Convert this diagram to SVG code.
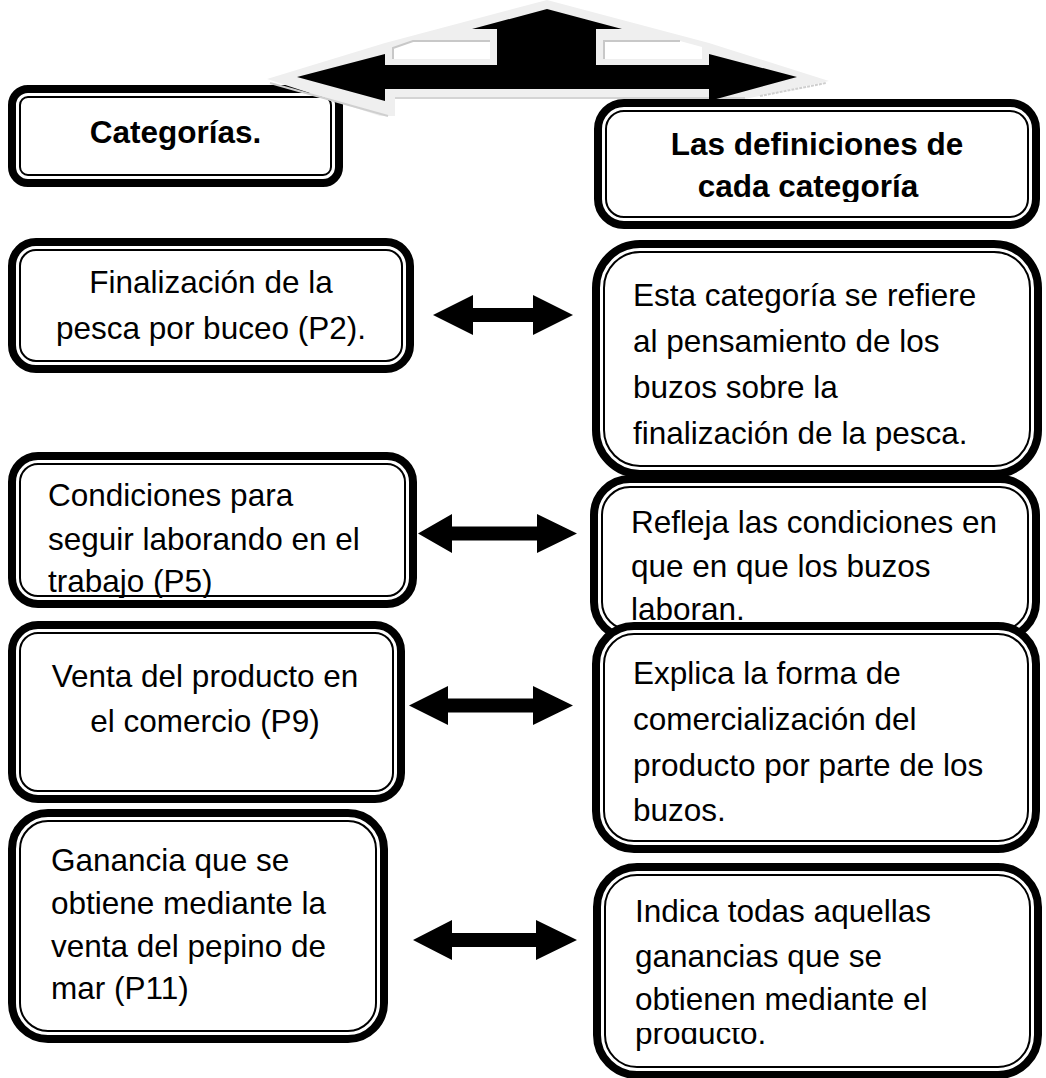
<svg xmlns="http://www.w3.org/2000/svg" width="1046" height="1078" viewBox="0 0 1046 1078">
<style>
.ob{fill:#fff;stroke:#000;stroke-width:8}
.ib{fill:none;stroke:#000;stroke-width:2}
.t{font-family:"Liberation Sans",Arial,sans-serif;font-size:31.5px;fill:#000}
.b{font-weight:bold}
.m{text-anchor:middle}
.ar{fill:#000}
</style>
<defs>
<clipPath id="cR1"><rect x="600" y="110" width="430" height="92"/></clipPath>
<clipPath id="cL3"><rect x="20" y="464" width="390" height="134"/></clipPath>
<clipPath id="cR5"><rect x="600" y="1028" width="430" height="40"/></clipPath>
</defs>
<rect width="1046" height="1078" fill="#fff"/>

<g id="n-categorias">
<rect class="ob" x="12" y="89" width="327" height="94" rx="16"/>
<rect class="ib" x="20" y="97" width="311" height="78" rx="8"/>
<text class="t b m" x="175.5" y="143">Categorías.</text>
</g>

<g id="n-definiciones">
<rect class="ob" x="598" y="103" width="438" height="122" rx="26"/>
<rect class="ib" x="606" y="111" width="422" height="106" rx="18"/>
<g clip-path="url(#cR1)">
<text class="t b m" x="817" y="155">Las definiciones de</text>
<text class="t b m" x="808" y="197">cada categoría</text>
</g>
</g>

<g id="n-finalizacion">
<rect class="ob" x="12" y="242" width="398" height="127" rx="24"/>
<rect class="ib" x="20" y="250" width="382" height="111" rx="16"/>
<text class="t m" x="211" y="293">Finalización de la</text>
<text class="t m" x="211" y="339">pesca por buceo (P2).</text>
</g>

<g id="n-def-finalizacion">
<rect class="ob" x="596" y="244" width="442" height="230" rx="44"/>
<rect class="ib" x="604" y="252" width="426" height="214" rx="36"/>
<text class="t" x="633" y="306">Esta categoría se refiere</text>
<text class="t" x="633" y="352">al pensamiento de los</text>
<text class="t" x="633" y="398">buzos sobre la</text>
<text class="t" x="633" y="444">finalización de la pesca.</text>
</g>

<g id="n-condiciones">
<rect class="ob" x="12" y="456" width="401" height="148" rx="26"/>
<rect class="ib" x="20" y="464" width="385" height="132" rx="18"/>
<g clip-path="url(#cL3)">
<text class="t" x="48" y="506">Condiciones para</text>
<text class="t" x="48" y="550">seguir laborando en el</text>
<text class="t" x="48" y="592">trabajo (P5)</text>
</g>
</g>

<g id="n-def-condiciones">
<rect class="ob" x="594" y="479" width="442" height="159" rx="36"/>
<rect class="ib" x="602" y="487" width="426" height="143" rx="28"/>
<text class="t" x="631" y="533">Refleja las condiciones en</text>
<text class="t" x="631" y="577">que en que los buzos</text>
<text class="t" x="631" y="620">laboran.</text>
</g>

<g id="n-venta">
<rect class="ob" x="12" y="625" width="389" height="174" rx="26"/>
<rect class="ib" x="20" y="633" width="373" height="158" rx="18"/>
<text class="t m" x="205" y="687">Venta del producto en</text>
<text class="t m" x="205" y="732">el comercio (P9)</text>
</g>

<g id="n-def-venta">
<rect class="ob" x="596" y="626" width="440" height="223" rx="38"/>
<rect class="ib" x="604" y="634" width="424" height="207" rx="30"/>
<text class="t" x="633" y="684">Explica la forma de</text>
<text class="t" x="633" y="730">comercialización del</text>
<text class="t" x="633" y="776">producto por parte de los</text>
<text class="t" x="633" y="821">buzos.</text>
</g>

<g id="n-ganancia">
<rect class="ob" x="12" y="813" width="372" height="226" rx="36"/>
<rect class="ib" x="20" y="821" width="356" height="210" rx="28"/>
<text class="t" x="51" y="871">Ganancia que se</text>
<text class="t" x="51" y="914">obtiene mediante la</text>
<text class="t" x="51" y="957">venta del pepino de</text>
<text class="t" x="51" y="999">mar (P11)</text>
</g>

<g id="n-def-ganancia">
<rect class="ob" x="597" y="867" width="441" height="208" rx="40"/>
<rect class="ib" x="605" y="875" width="425" height="192" rx="32"/>
<text class="t" x="635" y="922">Indica todas aquellas</text>
<text class="t" x="635" y="967">ganancias que se</text>
<text class="t" x="635" y="1010">obtienen mediante el</text>
<text class="t" x="635" y="1044" clip-path="url(#cR5)">producto.</text>
</g>

<g id="top-arrow">
<polygon points="267,79 385,43 547,0 709,43 829,81 745,99 395,99 395,116 380,116" fill="#efefef"/>
<polyline points="270,83 388,116" fill="none" stroke="#cfcfcf" stroke-width="2"/>
<line x1="395" y1="98" x2="745" y2="98" stroke="#d4d4d4" stroke-width="2"/>
<line x1="760" y1="96" x2="826" y2="83" stroke="#cfcfcf" stroke-width="2" stroke-dasharray="3 1"/>
<polygon points="393,48 413,41 490,41 490,59 393,59" fill="#fff"/>
<polyline points="393,59 393,48 413,41 490,41" fill="none" stroke="#c8c8c8" stroke-width="2"/>
<polygon points="603,41 680,41 702,47 702,59 603,59" fill="#fff"/>
<polyline points="604,59 604,41 680,41" fill="none" stroke="#c8c8c8" stroke-width="2"/>
<polygon class="ar" points="547,9 622,29 596,29 596,65 709,65 709,54 797,77 709,101 709,89 385,89 385,101 297,77 385,54 385,65 497,65 497,29 472,29"/>
</g>

<g id="connectors">
<polygon class="ar" points="433,315 473,295 473,308 533,308 533,295 573,315 533,335 533,322 473,322 473,335"/>
<polygon class="ar" points="418,533.5 452,514 452,526.5 537,526.5 537,514 577,533.5 537,553 537,540.5 452,540.5 452,553"/>
<polygon class="ar" points="409,705.5 448,686 448,698.5 533,698.5 533,686 573,705.5 533,725 533,712.5 448,712.5 448,725"/>
<polygon class="ar" points="413,940 452,920 452,933 536,933 536,920 577,940 536,960 536,947 452,947 452,960"/>
</g>
</svg>
